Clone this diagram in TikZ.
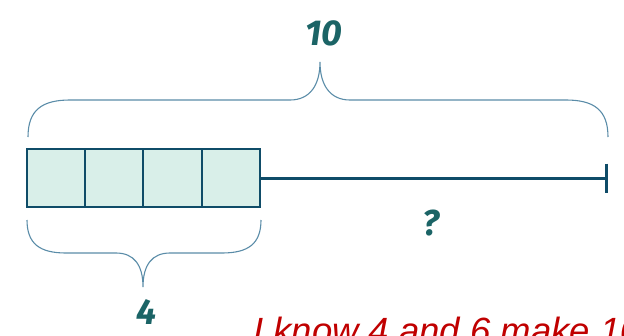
\documentclass[tikz,border=0pt]{standalone}
\usepackage{fontspec}
\setmainfont{Liberation Sans}
\newfontfamily\handfont{Fira Sans}
\usetikzlibrary{arrows.meta}
\definecolor{barline}{HTML}{0F4C68}
\definecolor{barfill}{HTML}{D9EFE9}
\definecolor{bracecol}{HTML}{5A8CA8}
\definecolor{numcol}{HTML}{1B6466}
\definecolor{notered}{HTML}{C00000}
\begin{document}
\begin{tikzpicture}[x=1pt,y=-1pt,
		cell/.style={draw=barline,fill=barfill,line width=2pt,minimum width=58.25pt,minimum height=58pt,inner sep=0pt},
		brace/.style={draw=bracecol,line width=1.1pt},
		num/.style={text=numcol,font=\handfont\itshape\bfseries\fontsize{36}{36}\selectfont}
	]
	\useasboundingbox (0,0) rectangle (624,335);
	\clip (0,0) rectangle (624,335);
	% the bar of four
	\node[cell] (c1) at (56.1,178) {};
	\node[cell] (c2) at (114.4,178) {};
	\node[cell] (c3) at (172.6,178) {};
	\node[cell] (c4) at (230.9,178) {};
	\coordinate (E) at (608,178);
	\draw[barline,line width=3pt,-{Bar[width=29pt]}] (c4.east) -- (E);
	% braces
	\coordinate (TL) at (28,137);
	\coordinate (TT) at (320,62);
	\coordinate (TR) at (608,137);
	\draw[brace] (TL) .. controls (28,110) and (42,100) .. (70,100) -- (290,100)
		.. controls (310,100) and (320,85) .. (TT)
		.. controls (320,85) and (330,100) .. (350,100) -- (566,100)
		.. controls (594,100) and (608,110) .. (TR);
	\coordinate (BL) at (27,220);
	\coordinate (BT) at (143,287);
	\coordinate (BR) at (261,220);
	\draw[brace] (BL) .. controls (27,244) and (40,253) .. (66,253) -- (116,253)
		.. controls (134,253) and (143,265) .. (BT)
		.. controls (143,265) and (152,253) .. (170,253) -- (222,253)
		.. controls (248,253) and (261,244) .. (BR);
	% labels
	\node[num] (ten) at (324,33) {10};
	\node[num] (four) at (146,312) {4};
	\node[num] (q) at (431,223) {?};
	\node[anchor=base west,text=notered,font=\itshape\fontsize{36.5}{36.5}\selectfont,inner sep=0pt] (note) at (253,343) {I know 4 and 6 make 10.};
\end{tikzpicture}
\end{document}
